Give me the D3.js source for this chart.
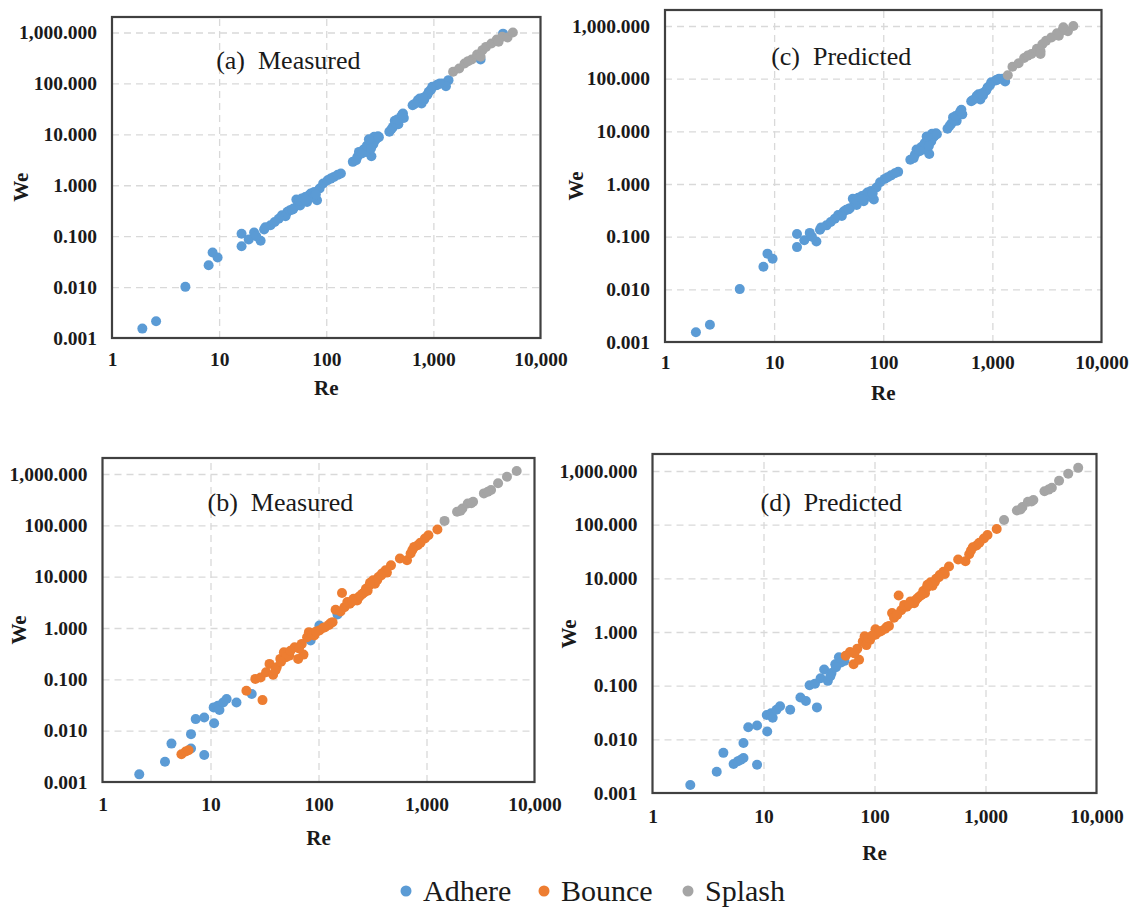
<!DOCTYPE html>
<html>
<head>
<meta charset="utf-8">
<script src="https://cdn.jsdelivr.net/npm/d3@7"></script>
<style>
  html, body { margin: 0; padding: 0; background: #fff; }
  svg text { font-family: "Liberation Serif", "Times New Roman", serif; }
  .tick text { font-size: 19.5px; font-weight: 700; fill: #1a1a1a; }
  .grid line { stroke: #d9d9d9; stroke-width: 1.3; stroke-dasharray: 7 5; }
  .axis-title { font-size: 21px; font-weight: 700; fill: #1a1a1a; }
  .panel-title { font-size: 26px; fill: #1a1a1a; white-space: pre; }
  .legend text { font-size: 30px; fill: #1a1a1a; }
</style>
</head>
<body>
<div id="chart"></div>
<script>
// classes: A = Adhere, B = Bounce, S = Splash
const classNames = { A: "Adhere", B: "Bounce", S: "Splash" };
const classOrder = ["A", "B", "S"];

const xTicks = [1, 10, 100, 1000, 10000];
const yTicks = [0.001, 0.01, 0.1, 1, 10, 100, 1000];

// top row, panels (a) and (c)
const topRe = [1.92, 2.58, 4.84, 7.98, 8.69, 9.68, 16.2, 16.2, 18.9, 21.2, 24.4, 22.2, 26.3, 30.2,
  38.6, 43.4, 41.7, 49.4, 54.6, 59, 52.6, 63.7, 66.2, 71.5, 82, 77.3, 86.7, 93.6, 103, 118, 137,
  45.8, 61.3, 177, 195, 202, 223, 245, 264, 255, 286, 304, 275, 235, 388, 420, 453, 490, 520, 471,
  436, 640, 718, 776, 838, 905, 746, 977, 1072, 1233, 1384, 1310, 1528, 1740, 1955, 2280, 2560,
  2870, 3100, 3480, 3910, 4390, 4920, 5520, 2760, 2110, 4060, 2760, 4470,
  57, 68, 75, 48, 215, 240, 262, 295, 280, 405, 445, 500, 530, 700, 760, 820, 880, 1100, 190, 36, 27,
  33, 56, 64, 80, 110, 128, 250, 310, 460, 510, 660, 800, 950, 1150];
const topWe = [0.00153, 0.00213, 0.0101, 0.0269, 0.0476, 0.038, 0.112, 0.0634, 0.0857, 0.118, 0.081,
  0.1, 0.135, 0.164, 0.258, 0.3, 0.247, 0.348, 0.437, 0.548, 0.523, 0.59, 0.47, 0.687, 0.508, 0.74,
  0.86, 1.08, 1.25, 1.46, 1.7, 0.323, 0.485, 2.88, 3.6, 4.52, 5.02, 5.67, 3.72, 7.11, 7.67, 9.2, 6.4,
  4.52, 11.2, 14, 17.6, 20.4, 25.6, 15.8, 18.4, 37.4, 46.9, 40.3, 54.5, 68.3, 50.5, 85.7, 92.4, 99.6,
  116, 88.3, 169, 196, 246, 295, 370, 450, 522, 608, 728, 822, 798, 1000, 333, 274, 656, 295, 950,
  0.4, 0.62, 0.58, 0.33, 4.2, 6.0, 5.3, 8.3, 9.0, 12.6, 16.5, 22, 21, 42, 44, 48, 60, 95, 3.1, 0.22, 0.15,
  0.19, 0.5, 0.52, 0.66, 1.35, 1.6, 8.0, 8.8, 19.5, 24, 39, 52, 75, 100];
const topMeasured = ("AAAAAAAAAAAAAAAAAAAAAAAAAAAAAAAAAAAAAAAAAAAAAAAAAAAAAAAAAAAAAA" +
  "SSSSSSSSSSSSSSSAA" + "AAAAAAAAAAAAAAAAAAAAA" + "AAAAAAAAAAAAAA").split("");
const topPredicted = ("AAAAAAAAAAAAAAAAAAAAAAAAAAAAAAAAAAAAAAAAAAAAAAAAAAAAAAAAAAAAAA" +
  "SSSSSSSSSSSSSSSSS" + "AAAAAAAAAAAAAAAAAAAAA" + "AAAAAAAAAAAAAA").split("");
topPredicted[60] = "S";

// bottom row, panels (b) and (d)
const botRe = [2.19, 3.79, 4.35, 6.6, 6.6, 7.29, 8.75, 8.75, 10.8, 10.7, 11.7, 12.1, 13.1, 14.1, 17.4,
  24.1, 5.38, 5.89, 6.26, 21.5, 30.3, 26, 29.1, 32.7, 35.2, 38, 41, 44.3, 47.8, 53.6, 60.1, 64.8,
  72.6, 70, 78.4, 81.5, 91.3, 102, 115, 129, 144, 165, 174, 195, 211, 236, 255, 275, 297, 320, 359,
  387, 418, 469, 228, 333, 567, 660, 713, 769, 830, 967, 1042, 1262, 1469, 1918, 2150, 2410, 2700,
  3400, 3960, 4600, 5560, 6840, 2070, 102, 150, 84.6, 50, 40, 88, 110, 125, 185, 245, 285, 350, 300,
  430, 160, 2600, 3700, 45, 55, 66, 95, 135, 205, 265, 380, 740, 880];
const botWe = [0.00141, 0.00249, 0.0056, 0.00855, 0.00448, 0.0168, 0.0181, 0.00337, 0.014, 0.0284,
  0.0306, 0.0252, 0.0355, 0.0413, 0.0355, 0.0516, 0.00348, 0.00392, 0.00416, 0.06, 0.0394, 0.102,
  0.109, 0.137, 0.2, 0.123, 0.172, 0.25, 0.337, 0.29, 0.422, 0.25, 0.303, 0.49, 0.662, 0.83, 0.714,
  0.893, 1.04, 1.24, 2.26, 4.8, 2.55, 2.96, 3.72, 4.0, 4.65, 5.82, 6.78, 8.48, 9.85, 11.5, 13.3, 16.6,
  3.45, 7.29, 22.5, 20.8, 28.2, 38, 41, 55.3, 64.3, 83, 122, 184, 213, 267, 288, 419, 487, 658, 887,
  1145, 192, 1.12, 1.84, 0.57, 0.27, 0.15, 0.78, 1.0, 1.15, 3.2, 4.3, 5.3, 8.6, 7.6, 12, 2.1, 270, 450,
  0.22, 0.36, 0.4, 0.85, 1.3, 3.3, 4.9, 10.5, 33, 46];
const botMeasured = ("AAAAAAAAAAAAAAAA" + "BBBBBBBBBBBBBB" + "BBBBBBBBBBBBBBBBBBBBBBBBBBBBBBBBBB" +
  "SSSSSSSSSSS" + "AAA" + "BBBBBBBBBBBB" + "SS" + "BBBBBBBBBB").split("");
const botPredicted = ("AAAAAAAAAAAAAAAA" + "AAAAAAAAAAAAAA" + "BBBBBBBBBBBBBBBBBBBBBBBBBBBBBBBBBB" +
  "SSSSSSSSSSS" + "BBB" + "AABBBBBBBBBB" + "SS" + "ABBBBBBBBB").split("");

const COLORS = { A: "#5b9bd5", B: "#ed7d31", S: "#a5a5a5" };

const panels = [
  { title: "(a)  Measured", re: topRe, we: topWe, cls: topMeasured,
    box: { l: 112, r: 540.5, t: 17, b: 338, y1000: 32.5 }, xLabDy: 22, reDy: 50, weDx: -91 },
  { title: "(c)  Predicted", re: topRe, we: topWe, cls: topPredicted,
    box: { l: 665, r: 1101.5, t: 10, b: 342, y1000: 26 }, xLabDy: 21, reDy: 51, weDx: -89 },
  { title: "(b)  Measured", re: botRe, we: botWe, cls: botMeasured,
    box: { l: 102.5, r: 534.5, t: 458, b: 782, y1000: 474 }, xLabDy: 23, reDy: 56, weDx: -84 },
  { title: "(d)  Predicted", re: botRe, we: botWe, cls: botPredicted,
    box: { l: 652.5, r: 1096.5, t: 454, b: 793, y1000: 471 }, xLabDy: 24, reDy: 60, weDx: -84 },
];

const W = 1129, H = 909;
const svg = d3.select("#chart").append("svg").attr("width", W).attr("height", H);

const fmtY = d3.format(",.3f");
const fmtX = d3.format(",");

panels.forEach((p) => {
  const { l, r, t, b, y1000 } = p.box;
  const x = d3.scaleLog().domain([1, 10000]).range([l, r]);
  const y = d3.scaleLog().domain([0.001, 1000]).range([b, y1000]);
  const g = svg.append("g");

  // dashed gridlines
  g.append("g")
    .attr("class", "grid")
    .attr("transform", `translate(${l},0)`)
    .call(d3.axisLeft(y).tickValues(yTicks.slice(1)).tickSize(-(r - l)).tickFormat(""))
    .call((s) => s.select(".domain").remove());
  g.append("g")
    .attr("class", "grid")
    .attr("transform", `translate(0,${b})`)
    .call(d3.axisBottom(x).tickValues(xTicks.slice(1, -1)).tickSize(-(b - t)).tickFormat(""))
    .call((s) => s.select(".domain").remove());

  // tick labels
  g.append("g")
    .attr("transform", `translate(${l},0)`)
    .call(d3.axisLeft(y).tickValues(yTicks).tickSize(0).tickPadding(15).tickFormat(fmtY))
    .call((s) => s.select(".domain").remove());
  g.append("g")
    .attr("transform", `translate(0,${b})`)
    .call(d3.axisBottom(x).tickValues(xTicks).tickSize(0).tickPadding(0).tickFormat(fmtX))
    .call((s) => s.select(".domain").remove())
    .selectAll("text")
    .attr("dy", null)
    .attr("y", p.xLabDy + 6);

  // points, drawn series by series
  const pts = p.re.map((d, i) => ({ re: d, we: p.we[i], c: p.cls[i] }));
  pts.sort((a, b2) => classOrder.indexOf(a.c) - classOrder.indexOf(b2.c));
  g.append("g")
    .selectAll("circle")
    .data(pts)
    .join("circle")
    .attr("cx", (d) => x(d.re))
    .attr("cy", (d) => y(d.we))
    .attr("r", 5)
    .attr("fill", (d) => COLORS[d.c]);

  g.append("rect")
    .attr("x", l).attr("y", t)
    .attr("width", r - l).attr("height", b - t)
    .attr("fill", "none")
    .attr("stroke", "#404040")
    .attr("stroke-width", 2.2);

  g.append("text")
    .attr("class", "panel-title")
    .attr("x", x(10) - 3)
    .attr("y", y(100) - 14)
    .text(p.title);

  g.append("text")
    .attr("class", "axis-title")
    .attr("text-anchor", "middle")
    .attr("x", (l + r) / 2)
    .attr("y", b + p.reDy + 7)
    .text("Re");

  g.append("text")
    .attr("class", "axis-title")
    .attr("text-anchor", "middle")
    .attr("transform", `translate(${l + p.weDx + 7},${y(1) + 2}) rotate(-90)`)
    .text("We");
});

// legend
const legendX = [406, 544, 688];
const legend = svg.append("g").attr("class", "legend");
legend.selectAll("g")
  .data(classOrder)
  .join("g")
  .attr("transform", (_, i) => `translate(${legendX[i]},891)`)
  .each(function (d) {
    const item = d3.select(this);
    item.append("circle").attr("r", 5.5).attr("fill", COLORS[d]);
    item.append("text").attr("x", 17).attr("y", 10).text(classNames[d]);
  });
</script>
</body>
</html>
